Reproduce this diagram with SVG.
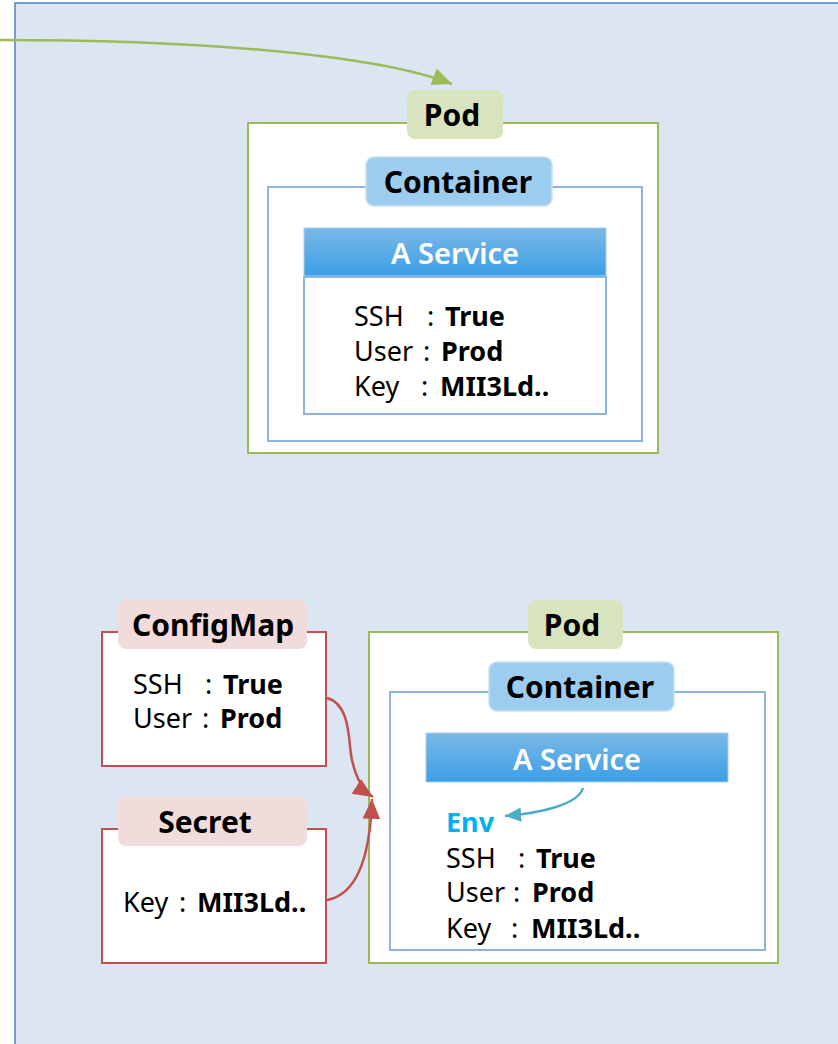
<svg xmlns="http://www.w3.org/2000/svg" width="838" height="1044" viewBox="0 0 838 1044">
<defs>
<linearGradient id="svcGrad" x1="0" y1="0" x2="0" y2="1">
<stop offset="0" stop-color="#7ab8e6"/>
<stop offset="1" stop-color="#3d9fe6"/>
</linearGradient>
<marker id="arrGreen" markerUnits="userSpaceOnUse" markerWidth="22" markerHeight="22" viewBox="0 0 20 20" refX="18" refY="10" orient="auto">
<path d="M0,2 L18,10 L0,18 z" fill="#9bbb59"/>
</marker>
<marker id="arrRed" markerUnits="userSpaceOnUse" markerWidth="22" markerHeight="22" viewBox="0 0 20 20" refX="18" refY="10" orient="auto">
<path d="M0,2 L18,10 L0,18 z" fill="#c0504d"/>
</marker>
<marker id="arrTeal" markerUnits="userSpaceOnUse" markerWidth="18" markerHeight="18" viewBox="0 0 20 20" refX="18" refY="10" orient="auto">
<path d="M0,2 L18,10 L0,18 z" fill="#4bacc6"/>
</marker>
</defs>
<style>
text{font-family:"Noto Sans","Open Sans","DejaVu Sans",sans-serif;fill:#000;}
.lbl{font-size:30px;font-weight:bold;text-anchor:middle;}
.body{font-size:27px;}
.b{font-weight:bold;}
.svc{font-size:29px;font-weight:600;fill:#fff;text-anchor:middle;}
.pod{fill:#fff;stroke:#9bbb59;stroke-width:2;}
.podTag{fill:#d7e4bd;}
.cont{fill:#fff;stroke:#8db3e2;stroke-width:2;}
.contTag{fill:#9dcdee;stroke:#c6e0f5;stroke-width:1.5;}
.red{fill:#fff;stroke:#c0504d;stroke-width:2;}
.redTag{fill:#f2dcdb;}
.svcHead{fill:url(#svcGrad);stroke:#a9cdf0;stroke-width:1;}
</style>
<rect x="0" y="0" width="838" height="1044" fill="#fff"/>
<rect x="15" y="3" width="840" height="1060" fill="#dce6f2" stroke="#4f81bd" stroke-width="1.5"/>

<g id="pod-top">
<rect class="pod" x="248" y="123" width="410" height="330"/>
<rect class="podTag" x="407" y="90" width="96" height="49" rx="8"/>
<text class="lbl" x="452" y="126">Pod</text>
<g id="container-top">
<rect class="cont" x="268" y="187" width="374" height="254"/>
<rect class="contTag" x="366" y="157" width="186" height="49" rx="8"/>
<text class="lbl" x="458" y="193">Container</text>
<g id="service-top">
<rect class="svcHead" x="304" y="228" width="302" height="48"/>
<text class="svc" x="455" y="264">A Service</text>
<rect class="cont" x="304" y="277" width="302" height="137"/>
<text class="body" y="326"><tspan x="354">SSH</tspan><tspan x="427">:</tspan><tspan x="445" class="b">True</tspan></text>
<text class="body" y="361"><tspan x="354">User</tspan><tspan x="423">:</tspan><tspan x="441" class="b">Prod</tspan></text>
<text class="body" y="396"><tspan x="354">Key</tspan><tspan x="421">:</tspan><tspan x="440" class="b">MII3Ld..</tspan></text>
</g>
</g>
</g>

<g id="configmap">
<rect class="red" x="102" y="632" width="224" height="134"/>
<rect class="redTag" x="118" y="600" width="189" height="49" rx="8"/>
<text class="lbl" x="213" y="636">ConfigMap</text>
<text class="body" y="694"><tspan x="133">SSH</tspan><tspan x="205">:</tspan><tspan x="223" class="b">True</tspan></text>
<text class="body" y="728"><tspan x="133">User</tspan><tspan x="202">:</tspan><tspan x="220" class="b">Prod</tspan></text>
</g>

<g id="secret">
<rect class="red" x="102" y="829" width="224" height="134"/>
<rect class="redTag" x="118" y="797" width="189" height="49" rx="8"/>
<text class="lbl" x="205" y="833">Secret</text>
<text class="body" y="912"><tspan x="123">Key</tspan><tspan x="179">:</tspan><tspan x="197" class="b">MII3Ld..</tspan></text>
</g>

<g id="pod-bottom">
<rect class="pod" x="369" y="632" width="409" height="331"/>
<rect class="podTag" x="528" y="600" width="95" height="49" rx="8"/>
<text class="lbl" x="572" y="636">Pod</text>
<g id="container-bottom">
<rect class="cont" x="390" y="692" width="375" height="258"/>
<rect class="contTag" x="489" y="662" width="185" height="49" rx="8"/>
<text class="lbl" x="580" y="698">Container</text>
<g id="service-bottom">
<rect class="svcHead" x="426" y="733" width="302" height="49"/>
<text class="svc" x="577" y="770">A Service</text>
<text class="body b" x="446" y="832" style="fill:#00b0f0">Env</text>
<text class="body" y="868"><tspan x="446">SSH</tspan><tspan x="518">:</tspan><tspan x="536" class="b">True</tspan></text>
<text class="body" y="902"><tspan x="446">User</tspan><tspan x="513">:</tspan><tspan x="532" class="b">Prod</tspan></text>
<text class="body" y="938"><tspan x="446">Key</tspan><tspan x="511">:</tspan><tspan x="531" class="b">MII3Ld..</tspan></text>
</g>
</g>
</g>

<g id="connectors" fill="none">
<path d="M0,40 C180,40 370,52 452,84" stroke="#9bbb59" stroke-width="2.5" marker-end="url(#arrGreen)"/>
<path d="M327,698 C352,705 348,745 352,760 C356,778 362,790 373,797" stroke="#c0504d" stroke-width="2.5" marker-end="url(#arrRed)"/>
<path d="M327,900 C355,895 370,860 372,799" stroke="#c0504d" stroke-width="2.5" marker-end="url(#arrRed)"/>
<path d="M583,788 C578,805 540,813 505,816" stroke="#4bacc6" stroke-width="2.5" marker-end="url(#arrTeal)"/>
</g>
</svg>
